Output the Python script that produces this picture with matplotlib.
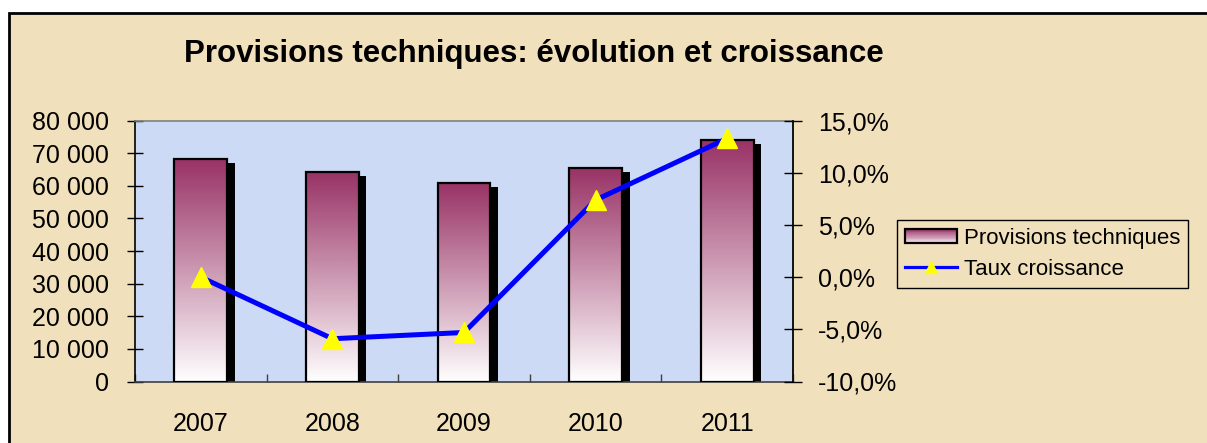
import numpy as np
import matplotlib
matplotlib.use('Agg')
import matplotlib.pyplot as plt
from matplotlib.colors import LinearSegmentedColormap
from matplotlib.patches import Rectangle
from matplotlib.lines import Line2D
from matplotlib.legend_handler import HandlerBase

plt.rcParams['font.family'] = ['Liberation Sans', 'DejaVu Sans']

# data
years = ['2007', '2008', '2009', '2010', '2011']
provisions = [68200, 64300, 61000, 65600, 74100]
croissance = [0.0, -5.9, -5.3, 7.4, 13.3]   # in %

left_ticks = [0, 10000, 20000, 30000, 40000, 50000, 60000, 70000, 80000]
left_labels = ['0', '10 000', '20 000', '30 000', '40 000', '50 000',
               '60 000', '70 000', '80 000']
right_ticks = [-10, -5, 0, 5, 10, 15]
right_labels = ['-10,0%', '-5,0%', '0,0%', '5,0%', '10,0%', '15,0%']

title = 'Provisions techniques: évolution et croissance'

# colours
beige = '#F1E0BC'
plot_bg = '#CCDAF5'
maroon = '#993366'
bar_cmap = LinearSegmentedColormap.from_list('prov', ['white', maroon])

W, H = 1207, 443
fig = plt.figure(figsize=(W / 100, H / 100), dpi=100)
fig.patch.set_facecolor('white')

# beige panel with black border (runs off right and bottom edge)
panel = Rectangle((8.5 / W, -0.1), 1.2, (H - 12.5) / H + 0.1,
                  transform=fig.transFigure, facecolor=beige,
                  edgecolor='black', lw=2, zorder=-5)
fig.add_artist(panel)

ax = fig.add_axes([135 / W, 61.5 / H, 658 / W, 260.8 / H])
ax.set_facecolor(plot_bg)

x = np.arange(len(years))
bw = 0.4

# black drop shadows, then gradient bars
ax.bar(x + 0.058, np.array(provisions) - 1250, width=bw, color='black', zorder=2)
bars = ax.bar(x, provisions, width=bw, facecolor='none', edgecolor='black',
              lw=1.6, zorder=4)
grad = np.linspace(0, 1, 256).reshape(-1, 1)
for b in bars:
    x0, w, h = b.get_x(), b.get_width(), b.get_height()
    ax.imshow(grad, extent=(x0, x0 + w, 0, h), origin='lower', cmap=bar_cmap,
              aspect='auto', zorder=3, interpolation='bilinear')

ax.set_xlim(-0.5, len(years) - 0.5)
ax.set_ylim(0, 80000)
ax.set_yticks(left_ticks, left_labels, fontsize=18)
ax.tick_params(axis='y', direction='inout', length=12, width=1, pad=13)
ax.set_xticks(x, years, fontsize=18)
ax.set_xticks(np.arange(-0.5, len(years), 1), minor=True)
ax.tick_params(axis='x', which='major', length=0, pad=22)
ax.tick_params(axis='x', which='minor', direction='in', length=6, width=1,
               color='#404040')
ax.spines['top'].set_color('#808080')
ax.spines['right'].set_color('#808080')
ax.spines['bottom'].set_color('#404040')
ax.spines['left'].set_color('black')
for s in ax.spines.values():
    s.set_linewidth(1.2)

# growth rate on the right axis
ax2 = ax.twinx()
ax2.plot(x, croissance, color='#0000FF', lw=3.6, marker='^', ms=14.5,
         mfc='#FFFF00', mec='#FFFF00', zorder=5)
ax2.set_ylim(-10, 15)
ax2.set_yticks(right_ticks, right_labels, fontsize=18)
ax2.tick_params(axis='y', direction='inout', length=13.5, width=1, pad=11)
for k in ['top', 'left', 'bottom']:
    ax2.spines[k].set_visible(False)
ax2.spines['right'].set_color('black')
ax2.spines['right'].set_linewidth(1.2)

fig.text(534 / W, 1 - 61.7 / H, title, ha='center', va='baseline',
         fontsize=22.5, fontweight='bold')


class GradientHandler(HandlerBase):
    def create_artists(self, legend, orig_handle, xdescent, ydescent,
                       width, height, fontsize, trans):
        arts = []
        n = 16
        for i in range(n):
            r = Rectangle((-xdescent, -ydescent + i * height / n), width,
                          height / n + 0.2, facecolor=bar_cmap(0.15 + 0.85 * i / (n - 1)),
                          edgecolor='none', transform=trans)
            arts.append(r)
        edge = Rectangle((-xdescent, -ydescent), width, height,
                         facecolor='none', edgecolor='black', lw=1.6,
                         transform=trans)
        arts.append(edge)
        return arts


bar_handle = Rectangle((0, 0), 1, 1)
line_handle = Line2D([], [], color='#0000FF', lw=2.3, marker='^', ms=9,
                     mfc='#FFFF00', mec='#FFFF00')
leg = fig.legend([bar_handle, line_handle],
                 ['Provisions techniques', 'Taux croissance'],
                 loc='upper left', bbox_to_anchor=(897 / W, 1 - 220 / H),
                 bbox_transform=fig.transFigure, frameon=True, fancybox=False,
                 edgecolor='black', facecolor=beige, framealpha=1,
                 fontsize=16, handlelength=2.35, handleheight=0.6,
                 handletextpad=0.3, borderpad=0.35, labelspacing=0.45,
                 borderaxespad=0,
                 handler_map={Rectangle: GradientHandler()})
leg.get_frame().set_linewidth(1)

fig.savefig('out.png', dpi=100, facecolor=fig.get_facecolor())
